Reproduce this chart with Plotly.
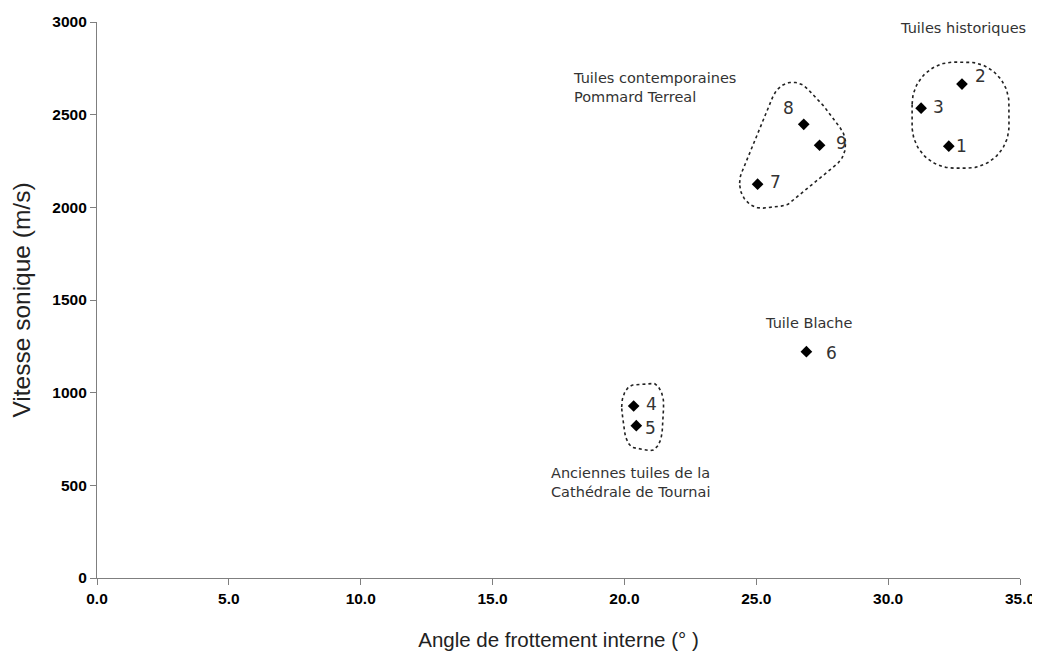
import numpy as np
import plotly.graph_objects as go

# ---------------- data ----------------
sample_ids = ["1", "2", "3", "4", "5", "6", "7", "8", "9"]
angle_deg = [32.3, 32.8, 31.25, 20.35, 20.45, 26.9, 25.05, 26.8, 27.4]
velocity_ms = [2330, 2665, 2535, 928, 822, 1221, 2125, 2448, 2335]

groups = {
    "historiques": ["1", "2", "3"],
    "contemporaines": ["7", "8", "9"],
    "tournai": ["4", "5"],
}
group_titles = [
    ("Tuiles historiques", 32.85, 2968, "center"),
    ("Tuiles contemporaines<br>Pommard Terreal", 17.97, 2649, "left"),
    ("Tuile Blache", 25.26, 1376, "left"),
    ("Anciennes tuiles de la<br>Cathédrale de Tournai", 17.14, 513, "left"),
]

x_ticks = [0, 5, 10, 15, 20, 25, 30, 35]
y_ticks = [0, 500, 1000, 1500, 2000, 2500, 3000]

# ---------------- style ----------------
# page body has an 8px margin; figure is sized so it ends at the window edge
W, H = 1032, 645
ML, MR, MT, MB = 89, 20, 14, 75
XR = (0, 35)
YR = (0, 3000)
# label offsets in pixels (dx right, dy down)
label_offsets = {
    "1": (13, 0), "2": (19, -8), "3": (17, -1), "4": (18, -2), "5": (14, 2),
    "6": (25, 1), "7": (18, -2), "8": (-15, -16), "9": (22, -2),
}
# outline styles (pixels)
#  hull: rx, ry, shift_x, shift_y, labels included
#  box : pad_left, pad_right, pad_top, pad_bottom, corner radius, labels included
outline_style = {
    "historiques": ("box", (9, 28, 14, 22, 42), ["1", "2", "3"]),
    "contemporaines": ("hull", (22, 25, 4, -1), ["7", "8"]),
    "tournai": ("hull", (12, 22, 0, 1), ["4", "5"]),
}
ANN_FONT = "DejaVu Sans"
TXT = "#333333"
AXC = "#7f7f7f"

pw = W - ML - MR
ph = H - MT - MB


def to_px(x, y):
    return (ML + (x - XR[0]) / (XR[1] - XR[0]) * pw,
            MT + (YR[1] - y) / (YR[1] - YR[0]) * ph)


def to_data(px, py):
    return (XR[0] + (px - ML) / pw * (XR[1] - XR[0]),
            YR[1] - (py - MT) / ph * (YR[1] - YR[0]))


def convex_hull(pts):
    pts = sorted(set(pts))
    if len(pts) <= 2:
        return pts

    def cross(o, a, b):
        return (a[0] - o[0]) * (b[1] - o[1]) - (a[1] - o[1]) * (b[0] - o[0])

    lower, upper = [], []
    for p in pts:
        while len(lower) >= 2 and cross(lower[-2], lower[-1], p) <= 0:
            lower.pop()
        lower.append(p)
    for p in reversed(pts):
        while len(upper) >= 2 and cross(upper[-2], upper[-1], p) <= 0:
            upper.pop()
        upper.append(p)
    return lower[:-1] + upper[:-1]


idx = {s: i for i, s in enumerate(sample_ids)}

fig = go.Figure()

# outlines around groups
theta = np.linspace(0, 2 * np.pi, 96, endpoint=False)
for g, members in groups.items():
    mode, params, lab_inc = outline_style[g]
    anchors = []
    for s in members:
        px, py = to_px(angle_deg[idx[s]], velocity_ms[idx[s]])
        anchors.append((px, py))
        if s in lab_inc:
            dx, dy = label_offsets[s]
            anchors.append((px + dx, py + dy))
    samples = []
    if mode == "hull":
        rx, ry, sx, sy = params
        for (ax, ay) in anchors:
            for t in theta:
                samples.append((round(ax + sx + rx * np.cos(t), 3),
                                round(ay + sy + ry * np.sin(t), 3)))
    else:
        pl, pr, pt, pb, rc = params
        xs = [a[0] for a in anchors]
        ys = [a[1] for a in anchors]
        x0, x1 = min(xs) - pl + rc, max(xs) + pr - rc
        y0, y1 = min(ys) - pt + rc, max(ys) + pb - rc
        for (cx, cy) in [(x0, y0), (x1, y0), (x0, y1), (x1, y1)]:
            for t in theta:
                samples.append((round(cx + rc * np.cos(t), 3),
                                round(cy + rc * np.sin(t), 3)))
    hull = convex_hull(samples)
    hull.append(hull[0])
    hx, hy = zip(*[to_data(p[0], p[1]) for p in hull])
    fig.add_trace(go.Scatter(
        x=list(hx), y=list(hy), mode="lines",
        line=dict(color="#222222", width=1.6, dash="dot"),
        hoverinfo="skip", showlegend=False, cliponaxis=False,
    ))

# points
fig.add_trace(go.Scatter(
    x=angle_deg, y=velocity_ms, mode="markers",
    marker=dict(symbol="diamond", size=9, color="black"),
    text=sample_ids, showlegend=False, cliponaxis=False,
))

annotations = []
for s, xv, yv in zip(sample_ids, angle_deg, velocity_ms):
    dx, dy = label_offsets[s]
    annotations.append(dict(
        x=xv, y=yv, xref="x", yref="y", text=s, showarrow=False,
        xshift=dx, yshift=-dy, xanchor="center", yanchor="middle",
        font=dict(family=ANN_FONT, size=17, color=TXT),
    ))
for text, xv, yv, anc in group_titles:
    annotations.append(dict(
        x=xv, y=yv, xref="x", yref="y", text=text, showarrow=False,
        xanchor=anc, yanchor="middle", align=anc,
        font=dict(family=ANN_FONT, size=14.5, color=TXT),
    ))

fig.update_layout(
    width=W, height=H,
    margin=dict(l=ML, r=MR, t=MT, b=MB, autoexpand=False),
    paper_bgcolor="white", plot_bgcolor="white",
    annotations=annotations,
    showlegend=False,
)
fig.update_xaxes(
    range=list(XR), tickvals=x_ticks, tickformat=".1f", automargin=False,
    showgrid=False, zeroline=False, showline=True, linecolor=AXC, linewidth=1.2,
    ticks="outside", ticklen=6, tickcolor=AXC,
    tickfont=dict(family="Liberation Sans", size=15.5, color="black", weight="bold"),
    title=dict(text="Angle de frottement interne (° )", standoff=26,
               font=dict(family="Liberation Sans", size=20.5, color="#222222")),
)
fig.update_yaxes(
    range=list(YR), tickvals=y_ticks, automargin=False,
    showgrid=False, zeroline=False, showline=True, linecolor=AXC, linewidth=1.2,
    ticks="outside", ticklen=6, tickcolor=AXC,
    tickfont=dict(family="Liberation Sans", size=15.5, color="black", weight="bold"),
    title=dict(text="Vitesse sonique (m/s)", standoff=14,
               font=dict(family="Liberation Sans", size=24.5, color="#222222")),
)

fig.write_html("out.html")
